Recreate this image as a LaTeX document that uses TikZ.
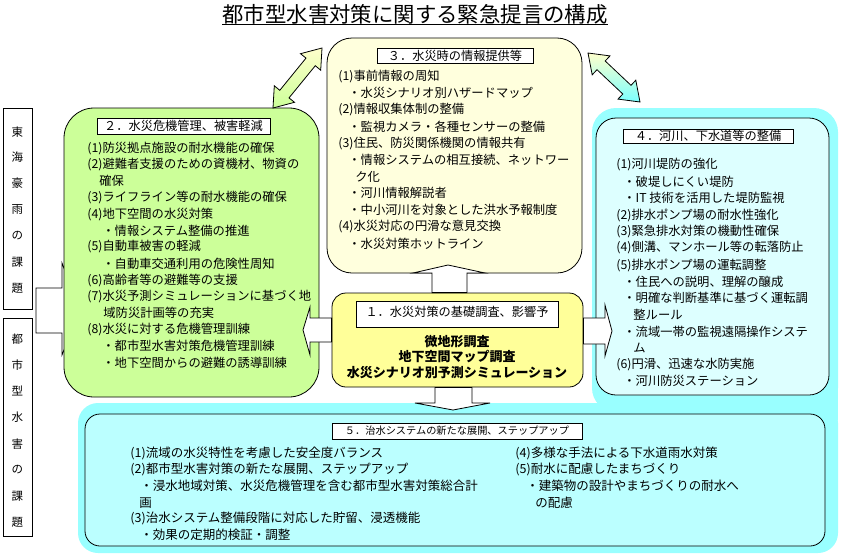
\documentclass[tikz,border=0pt]{standalone}
\usepackage{fontspec}
\setmainfont{Noto Sans CJK JP}
\usetikzlibrary{calc}
\definecolor{cream}{HTML}{FFFFDD}
\definecolor{lgreen}{HTML}{CCFF99}
\definecolor{lyellow}{HTML}{FFFF99}
\definecolor{cyanband}{HTML}{99FFFF}
\definecolor{cyanfour}{HTML}{DDFFFF}
\definecolor{cyanfive}{HTML}{BBFFFF}
\definecolor{pyel}{HTML}{FFFFCC}
\begin{document}
\begin{tikzpicture}[x=1pt,y=-1pt,line width=0.8pt,
  txt/.style={anchor=west,inner sep=0pt,font=\fontsize{12.3}{14}\selectfont},
  txtfive/.style={anchor=west,inner sep=0pt,font=\fontsize{12.5}{14}\selectfont},
  ttlbox/.style={draw,fill=white,inner sep=0pt,font=\fontsize{12.2}{14}\selectfont},
  bigbox/.style={draw,inner sep=0pt},
  band/.style={fill=cyanband,inner sep=0pt},
  blockarrow/.style={draw,fill=white,line join=miter},
  vchar/.style={inner sep=0pt,font=\fontsize{11.5}{13}\selectfont},
  boldline/.style={inner sep=0pt,font=\fontsize{13}{15}\selectfont\bfseries}]
\useasboundingbox (0,0) rectangle (841,557);
\fill[white] (0,0) rectangle (841,557);

% title
\node[inner sep=0pt,font=\fontsize{21.4}{24}\selectfont] (title) at (415,14) {都市型水害対策に関する緊急提言の構成};
\draw (title.south west) -- (title.south east);

% left label boxes
\node[bigbox,fill=white,minimum width=29,minimum height=201] (L1) at (17.5,208.5) {};
\node[bigbox,fill=white,minimum width=29,minimum height=218] (L2) at (17.5,427) {};
\foreach [count=\i] \py/\ch in {132/東,157/海,183/豪,209/雨,236/の,262/課,288/題}
  \node[vchar] (La\i) at (17.5,\py) {\ch};
\foreach [count=\i] \py/\ch in {339/都,365/市,391/型,417/水,444/害,470/の,496/課,522/題}
  \node[vchar] (Lb\i) at (17.5,\py) {\ch};

% connector arrow from label boxes to box 2
\draw[blockarrow] (36,288) -- (62,288) -- (62,263) -- (80,310) -- (62,355) -- (62,333) -- (36,333) -- cycle;

% cyan bands
\fill[cyanband,rounded corners=24] (592,108) rectangle (838,412);
\fill[cyanband,rounded corners=20] (78,403) rectangle (838,553);
\fill[cyanband] (800,380) rectangle (838,420);

% box 3
\node[bigbox,fill=cream,rounded corners=25,minimum width=255,minimum height=235] (b3) at (454.5,155.5) {};
\node[ttlbox,minimum width=156,minimum height=15] (t3) at (455,55.5) {３．水災時の情報提供等};
\foreach [count=\i] \px/\py/\tx in {338/77/{(1)事前情報の周知},348/93/{・水災シナリオ別ハザードマップ},338/110/{(2)情報収集体制の整備},348/127/{・監視カメラ・各種センサーの整備},338/144/{(3)住民、防災関係機関の情報共有},348/160/{・情報システムの相互接続、ネットワー},355/177/{ク化},348/193/{・河川情報解説者},348/210/{・中小河川を対象とした洪水予報制度},338/227/{(4)水災対応の円滑な意見交換},348/244/{・水災対策ホットライン}}
  \node[txt] (b3t\i) at (\px,\py) {\tx};

% box 2
\node[bigbox,fill=lgreen,rounded corners=30,minimum width=255,minimum height=289] (b2) at (191.5,252.5) {};
\node[ttlbox,minimum width=173,minimum height=16] (t2) at (183.5,126) {２．水災危機管理、被害軽減};
\foreach [count=\i] \px/\py/\tx in {87/149/{(1)防災拠点施設の耐水機能の確保},87/165/{(2)避難者支援のための資機材、物資の},99/181/{確保},87/198/{(3)ライフライン等の耐水機能の確保},87/215/{(4)地下空間の水災対策},102/231/{・情報システム整備の推進},87/247/{(5)自動車被害の軽減},102/264/{・自動車交通利用の危険性周知},87/281/{(6)高齢者等の避難等の支援},87/297/{(7)水災予測シミュレーションに基づく地},103/313/{域防災計画等の充実},87/330/{(8)水災に対する危機管理訓練},102/346/{・都市型水害対策危機管理訓練},102/363/{・地下空間からの避難の誘導訓練}}
  \node[txt] (b2t\i) at (\px,\py) {\tx};

% box 4
\node[bigbox,fill=cyanfour,rounded corners=20,minimum width=233,minimum height=277] (b4) at (712.5,256.5) {};
\node[ttlbox,minimum width=170,minimum height=14] (t4) at (708,136) {４．河川、下水道等の整備};
\foreach [count=\i] \px/\py/\tx in {616/165/{(1)河川堤防の強化},623/182/{・破堤しにくい堤防},623/198/{・IT 技術を活用した堤防監視},616/215/{(2)排水ポンプ場の耐水性強化},616/232/{(3)緊急排水対策の機動性確保},616/248/{(4)側溝、マンホール等の転落防止},616/265/{(5)排水ポンプ場の運転調整},623/282/{・住民への説明、理解の醸成},623/298/{・明確な判断基準に基づく運転調},633/315/{整ルール},623/332/{・流域一帯の監視遠隔操作システ},633/348/{ム},616/365/{(6)円滑、迅速な水防実施},623/381/{・河川防災ステーション}}
  \node[txt] (b4t\i) at (\px,\py) {\tx};

% box 5
\node[bigbox,fill=cyanfive,rounded corners=15,minimum width=740,minimum height=132] (b5) at (455,480) {};
\node[ttlbox,minimum width=250,minimum height=16,font=\fontsize{10.2}{12}\selectfont] (t5) at (457,431) {５．治水システムの新たな展開、ステップアップ};
\foreach [count=\i] \px/\py/\tx in {130/453/{(1)流域の水災特性を考慮した安全度バランス},130/469/{(2)都市型水害対策の新たな展開、ステップアップ},140/486/{・浸水地域対策、水災危機管理を含む都市型水害対策総合計},139/503/{画},130/518/{(3)治水システム整備段階に対応した貯留、浸透機能},140/535/{・効果の定期的検証・調整},515/453/{(4)多様な手法による下水道雨水対策},515/469/{(5)耐水に配慮したまちづくり},526/486/{・建築物の設計やまちづくりの耐水へ},535/503/{の配慮}}
  \node[txtfive] (b5t\i) at (\px,\py) {\tx};

% box 1
\node[bigbox,fill=lyellow,rounded corners=14,minimum width=251,minimum height=94] (b1) at (457.5,340) {};
\node[ttlbox,minimum width=202,minimum height=26,text depth=8pt] (t1) at (457,314) {};
\node[inner sep=0pt,font=\fontsize{12.2}{14}\selectfont] (t1x) at (457,312) {１．水災対策の基礎調査、影響予};
\node[boldline] (k1) at (457,342) {微地形調査};
\node[boldline] (k2) at (457,357) {地下空間マップ調査};
\node[boldline] (k3) at (457,373) {水災シナリオ別予測シミュレーション};

% block arrows from box 1
\draw[blockarrow] (b1.north -| 432,0) -- (432,273) -- (413,273) -- (448,265) -- (485,273) -- (467,273) -- (b1.north -| 467,0) -- cycle;
\draw[blockarrow] (b1.south -| 435,0) -- (435,403) -- (415,403) -- (453,410) -- (490,403) -- (472,403) -- (b1.south -| 472,0) -- cycle;
\draw[blockarrow] (b1.west |- 0,318) -- (310,318) -- (310,307) -- (303,330) -- (310,355) -- (310,342) -- (b1.west |- 0,342) -- cycle;
\draw[blockarrow] (b1.east |- 0,318) -- (605,318) -- (605,305) -- (612,331) -- (605,356) -- (605,344) -- (b1.east |- 0,344) -- cycle;

% double arrows
\shade[top color=pyel,bottom color=lgreen,draw=black,line join=miter]
  (273,108) -- (294.5,102.3) -- (289.0,97.9) -- (315.3,65.7) -- (320.7,70.2) -- (322,48)
  -- (300.5,53.7) -- (306.0,58.1) -- (279.8,90.3) -- (274.3,85.8) -- cycle;
\shade[top color=pyel,bottom color=cyanband!80!cyan,draw=black,line join=miter]
  (588,53) -- (592.2,74.8) -- (597.0,69.7) -- (622.8,94.0) -- (618.0,99.1) -- (640,102)
  -- (635.8,80.2) -- (631.0,85.3) -- (605.2,61.0) -- (610.0,55.9) -- cycle;
\end{tikzpicture}
\end{document}
